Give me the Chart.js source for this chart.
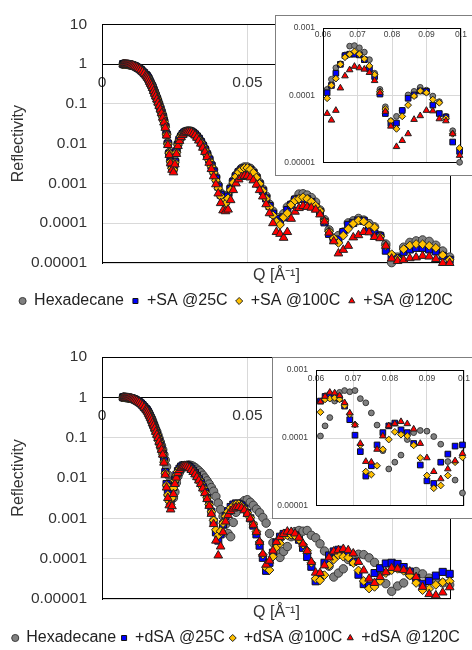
<!DOCTYPE html>
<html>
<head>
<meta charset="utf-8">
<script src="https://cdn.jsdelivr.net/npm/chart.js@4.4.1/dist/chart.umd.min.js"></script>
<style>
html,body{margin:0;padding:0;background:#fff;overflow:hidden;width:472px;height:650px;}
canvas{position:absolute;}
</style>
</head>
<body>
<canvas id="mainTop" width="472" height="325" style="left:0;top:0"></canvas>
<canvas id="insetTop" width="205" height="161" style="left:275px;top:15px"></canvas>
<canvas id="mainBottom" width="472" height="335" style="left:0;top:325px"></canvas>
<canvas id="insetBottom" width="208" height="162" style="left:272px;top:357px"></canvas>
<script>
const FONT='"Liberation Sans", Arial, sans-serif';
Chart.defaults.font.family=FONT;
Chart.defaults.color='#333';

// Q grid [1/A], shared by all series
const qValues=[
0.00728,0.00758,0.0079,0.00822,0.00856,0.00892,0.00928,0.00967,0.01007,0.01048,
0.01092,0.01137,0.01184,0.01233,0.01284,0.01337,0.01392,0.0145,0.0151,
0.01541,0.01573,0.01605,0.01638,0.01671,0.01705,0.0174,0.01776,0.01812,0.01849,
0.01887,0.01926,0.01965,0.02006,0.02047,0.02089,0.02131,0.02175,0.0222,0.02265,
0.02312,0.02359,0.02407,0.02457,0.02507,0.02558,0.02611,0.02664,0.02719,0.02775,
0.02832,0.0289,0.02949,0.03009,0.03071,0.03134,0.03198,0.03263,0.0333,0.03398,
0.03468,0.03539,0.03612,0.03686,0.03761,0.03838,0.03917,0.03997,0.04079,0.04162,
0.04248,0.04335,0.04424,0.04514,0.04607,0.04701,0.04798,0.04896,0.04996,0.05099,
0.05203,0.0531,0.05419,0.0553,0.05643,0.05759,0.05877,0.05997,0.0612,0.06245,
0.06373,0.06504,0.06637,0.06773,0.06912,0.07054,0.07198,0.07346,0.07496,0.0765,
0.07807,0.07967,0.0813,0.08297,0.08467,0.0864,0.08818,0.08998,0.09183,0.09371,
0.09563,0.09759,0.09959,0.10163,0.10372,0.10584,0.10801,0.11023,0.11249,0.11479,
0.11715,0.11955];

// top panel
const hexTop=[
1.0,1.0,0.99,0.99,0.98,0.98,0.97,0.96,0.95,0.93,0.91,0.88,0.85,0.81,0.77,0.72,0.66,0.6,0.53,
0.50,0.46,0.42,0.37,0.33,0.30,0.26,0.22,0.19,0.16,
0.14,0.115,0.095,0.078,0.063,0.050,0.038,0.028,0.018,0.0105,
0.0060,0.0038,0.0026,0.0024,0.0038,0.0066,0.0100,0.0129,0.0155,0.0178,
0.0195,0.0204,0.0209,0.0209,0.0204,0.0191,0.0174,0.0155,0.0135,0.0115,
0.0093,0.0074,0.0056,0.0042,0.0030,0.0022,0.00145,9.1e-4,5.8e-4,4.3e-4,
4.0e-4,5.2e-4,7.9e-4,1.17e-3,1.62e-3,2.0e-3,2.4e-3,2.6e-3,2.6e-3,2.4e-3,
2.0e-3,1.51e-3,1.05e-3,7.2e-4,4.8e-4,3.0e-4,2.0e-4,1.41e-4,1.23e-4,1.74e-4,
2.57e-4,2.95e-4,4.0e-4,5.4e-4,5.5e-4,5.1e-4,4.4e-4,3.4e-4,2.14e-4,1.23e-4,
6.8e-5,4.2e-5,4.9e-5,6.0e-5,1.02e-4,1.15e-4,1.32e-4,1.20e-4,9.8e-5,8.1e-5,
4.9e-5,3.0e-5,1.02e-5,1.41e-5,2.5e-5,3.3e-5,3.6e-5,3.8e-5,3.5e-5,2.8e-5,
2.0e-5,1.41e-5];
const saAt25=[
1.0,0.99,0.99,0.98,0.98,0.97,0.97,0.96,0.94,0.93,0.9,0.88,0.84,0.8,0.76,0.71,0.65,0.59,0.53,
0.50,0.46,0.42,0.37,0.33,0.29,0.26,0.22,0.19,0.16,
0.135,0.113,0.093,0.076,0.061,0.048,0.037,0.027,0.017,0.0100,
0.0056,0.0035,0.0025,0.0023,0.0035,0.0063,0.0095,0.0126,0.0151,0.0174,
0.0191,0.020,0.0204,0.0204,0.020,0.0186,0.0170,0.0151,0.0132,0.011,
0.0089,0.0071,0.0054,0.0040,0.0028,0.0020,0.00132,8.3e-4,5.2e-4,3.8e-4,
3.5e-4,4.7e-4,7.2e-4,1.10e-3,1.51e-3,1.91e-3,2.24e-3,2.4e-3,2.4e-3,2.19e-3,
1.82e-3,1.38e-3,9.5e-4,6.5e-4,4.2e-4,2.7e-4,1.74e-4,1.26e-4,1.10e-4,1.41e-4,
2.14e-4,2.9e-4,3.9e-4,4.1e-4,4.1e-4,4.0e-4,3.4e-4,2.5e-4,1.91e-4,1.05e-4,
5.4e-5,3.8e-5,3.9e-5,6.0e-5,9.1e-5,1.02e-4,1.17e-4,1.15e-4,7.2e-5,5.4e-5,
4.8e-5,2.04e-5,1.48e-5,1.32e-5,1.91e-5,2.19e-5,2.4e-5,2.4e-5,2.19e-5,1.95e-5,
1.51e-5,1.20e-5];
const saAt100=[
0.99,0.99,0.99,0.98,0.98,0.97,0.96,0.95,0.94,0.92,0.9,0.87,0.84,0.8,0.76,0.71,0.65,0.59,0.52,
0.50,0.46,0.41,0.37,0.33,0.29,0.25,0.22,0.19,0.16,
0.135,0.112,0.092,0.075,0.060,0.047,0.036,0.026,0.017,0.0098,
0.0058,0.0035,0.0024,0.0022,0.0033,0.0060,0.0093,0.0123,0.0151,0.0174,
0.0191,0.020,0.0204,0.0204,0.020,0.0186,0.017,0.0151,0.0129,0.0107,
0.0087,0.0069,0.0052,0.0038,0.0027,0.00186,0.0012,7.6e-4,4.8e-4,3.4e-4,
3.1e-4,4.2e-4,6.8e-4,1.05e-3,1.48e-3,1.91e-3,2.24e-3,2.45e-3,2.45e-3,2.24e-3,
1.86e-3,1.41e-3,9.8e-4,6.5e-4,4.1e-4,2.5e-4,1.58e-4,1.10e-4,9.1e-5,1.41e-4,
1.78e-4,2.9e-4,3.7e-4,4.1e-4,4.5e-4,4.1e-4,3.5e-4,2.75e-4,2.04e-4,1.15e-4,
6.3e-5,4.2e-5,3.2e-5,4.9e-5,7.2e-5,9.8e-5,1.17e-4,1.10e-4,8.7e-5,7.8e-5,
4.6e-5,2.7e-5,1.66e-5,1.26e-5,2.24e-5,2.75e-5,3.0e-5,2.95e-5,2.7e-5,2.4e-5,
1.58e-5,1.20e-5];
const saAt120=[
0.99,0.99,0.98,0.98,0.97,0.97,0.96,0.95,0.94,0.92,0.9,0.87,0.83,0.79,0.75,0.7,0.64,0.58,0.52,
0.49,0.45,0.41,0.36,0.32,0.29,0.25,0.21,0.18,0.155,
0.13,0.108,0.089,0.072,0.058,0.045,0.034,0.025,0.016,0.0092,
0.0052,0.0032,0.0022,0.0019,0.0030,0.0055,0.0087,0.0117,0.0145,0.0166,
0.0182,0.0191,0.0195,0.0195,0.0191,0.0178,0.0162,0.0141,0.0120,0.0100,
0.0079,0.0062,0.0046,0.0033,0.0023,0.00151,9.5e-4,5.6e-4,3.2e-4,2.1e-4,
2.0e-4,2.2e-4,3.8e-4,6.8e-4,1.0e-3,1.26e-3,1.45e-3,1.55e-3,1.55e-3,1.41e-3,
1.20e-3,9.3e-4,6.8e-4,4.7e-4,3.0e-4,1.78e-4,1.0e-4,6.0e-5,5.4e-5,4.3e-5,
6.0e-5,1.29e-4,1.95e-4,2.4e-4,2.7e-4,2.57e-4,2.45e-4,2.19e-4,1.66e-4,1.10e-4,
5.8e-5,3.5e-5,1.74e-5,2.14e-5,2.7e-5,4.4e-5,5.0e-5,6.0e-5,5.9e-5,4.5e-5,
4.2e-5,2.7e-5,1.29e-5,1.12e-5,1.20e-5,1.32e-5,1.38e-5,1.51e-5,1.45e-5,1.26e-5,
1.0e-5,1.0e-5];

// bottom panel
const hexBottom=[
1.0,1.0,0.99,0.99,0.98,0.98,0.97,0.96,0.95,0.93,0.91,0.88,0.85,0.81,0.77,0.72,0.66,0.6,0.53,
0.50,0.46,0.42,0.37,0.33,0.30,0.26,0.22,0.19,0.16,
0.14,0.115,0.095,0.078,0.063,0.050,0.038,0.028,0.019,0.012,
0.0076,0.0050,0.0035,0.0032,0.0045,0.0076,0.011,0.0138,0.0162,0.0182,
0.0195,0.0204,0.0209,0.0209,0.0204,0.0195,0.0182,0.0166,0.0151,0.0135,
0.0117,0.010,0.0085,0.0071,0.0058,0.0047,0.0035,0.0024,0.00166,1.12e-3,
7.1e-4,4.2e-4,3.5e-4,7.9e-4,1.41e-3,2.0e-3,2.4e-3,2.75e-3,2.9e-3,2.5e-3,
2.1e-3,1.70e-3,1.38e-3,1.05e-3,7.6e-4,4.2e-4,2.5e-4,1.41e-4,1.07e-4,1.51e-4,
2.0e-4,3.5e-4,4.7e-4,5.0e-4,4.8e-4,5.0e-4,3.8e-4,3.3e-4,2.34e-4,1.55e-4,
6.5e-5,3.5e-5,4.4e-5,5.6e-5,9.5e-5,1.20e-4,1.29e-4,1.26e-4,1.05e-4,8.1e-5,
4.5e-5,2.4e-5,1.55e-5,2.1e-5,2.5e-5,4.0e-5,4.8e-5,4.2e-5,3.3e-5,2.8e-5,
2.5e-5,2.24e-5];
const dsaAt25=[
1.0,1.0,0.99,0.99,0.98,0.97,0.96,0.95,0.94,0.92,0.9,0.87,0.83,0.79,0.75,0.7,0.64,0.57,0.51,
0.48,0.44,0.39,0.35,0.31,0.27,0.23,0.20,0.17,0.145,
0.12,0.10,0.081,0.066,0.052,0.040,0.026,0.014,0.0071,0.0042,
0.0030,0.0025,0.0035,0.0060,0.0091,0.0120,0.0148,0.0170,0.0191,0.0204,
0.0209,0.0209,0.020,0.0186,0.017,0.0151,0.0132,0.0112,0.0093,0.0076,
0.0059,0.0045,0.0032,0.0022,0.00145,8.3e-4,4.5e-4,2.8e-4,4.0e-4,7.1e-4,
1.12e-3,1.51e-3,1.91e-3,2.19e-3,2.34e-3,2.29e-3,2.09e-3,1.74e-3,1.35e-3,1.0e-3,
6.6e-4,4.0e-4,2.1e-4,1.05e-4,5.0e-5,7.9e-5,1.41e-4,2.5e-4,3.5e-4,4.1e-4,
4.3e-4,4.1e-4,3.8e-4,2.95e-4,1.86e-4,1.10e-4,6.3e-5,2.75e-5,3.9e-5,7.9e-5,
1.20e-4,1.51e-4,1.66e-4,1.32e-4,1.20e-4,8.3e-5,4.0e-5,2.34e-5,2.14e-5,4.4e-5,
5.8e-5,7.6e-5,7.9e-5,7.4e-5,6.2e-5,4.8e-5,3.3e-5,2.4e-5,2.8e-5,3.8e-5,
4.7e-5,4.2e-5];
const dsaAt100=[
0.99,0.99,0.99,0.98,0.98,0.97,0.96,0.95,0.93,0.92,0.89,0.86,0.83,0.79,0.74,0.69,0.63,0.57,0.51,
0.48,0.44,0.39,0.35,0.31,0.27,0.23,0.20,0.17,0.145,
0.12,0.10,0.081,0.065,0.051,0.039,0.025,0.0132,0.0066,0.0038,
0.0026,0.0022,0.0032,0.0056,0.0087,0.0117,0.0145,0.0166,0.0186,0.020,
0.0204,0.0204,0.0195,0.0182,0.0166,0.0148,0.0129,0.011,0.0091,0.0074,
0.0058,0.0044,0.0032,0.0022,0.00145,8.9e-4,5.2e-4,3.8e-4,4.8e-4,7.6e-4,
1.12e-3,1.48e-3,1.82e-3,2.09e-3,2.24e-3,2.24e-3,2.04e-3,1.74e-3,1.38e-3,1.05e-3,
7.2e-4,4.7e-4,2.6e-4,1.26e-4,6.0e-5,5.2e-5,1.12e-4,1.91e-4,2.4e-4,3.7e-4,
3.8e-4,3.9e-4,3.7e-4,3.0e-4,2.24e-4,1.58e-4,7.9e-5,3.2e-5,2.9e-5,3.9e-5,
6.8e-5,9.5e-5,1.23e-4,1.12e-4,1.07e-4,7.8e-5,5.1e-5,2.8e-5,1.82e-5,2.0e-5,
2.8e-5,4.4e-5,5.2e-5,5.6e-5,5.0e-5,3.8e-5,2.5e-5,1.66e-5,1.78e-5,2.24e-5,
2.6e-5,2.75e-5];
const dsaAt120=[
0.99,0.99,0.98,0.98,0.97,0.97,0.96,0.94,0.93,0.91,0.89,0.86,0.82,0.78,0.74,0.69,0.63,0.56,0.5,
0.48,0.44,0.39,0.35,0.31,0.27,0.23,0.20,0.17,0.14,
0.118,0.098,0.079,0.064,0.050,0.038,0.024,0.012,0.0058,0.0032,
0.0021,0.00166,0.0020,0.0040,0.0071,0.0102,0.0132,0.0158,0.0178,0.0191,
0.0195,0.0195,0.0186,0.0174,0.0158,0.0141,0.0123,0.0105,0.0087,0.0071,
0.0055,0.0042,0.0030,0.00204,0.00129,7.2e-4,2.8e-4,1.20e-4,2.0e-4,4.5e-4,
8.3e-4,1.20e-3,1.51e-3,1.74e-3,1.86e-3,1.91e-3,1.82e-3,1.58e-3,1.29e-3,9.8e-4,
6.9e-4,4.6e-4,2.6e-4,1.32e-4,7.1e-5,8.9e-5,1.58e-4,2.6e-4,3.4e-4,4.1e-4,
4.7e-4,4.6e-4,4.2e-4,3.3e-4,2.34e-4,1.55e-4,8.3e-5,4.5e-5,4.4e-5,6.8e-5,
1.07e-4,1.51e-4,1.62e-4,1.74e-4,1.62e-4,1.35e-4,8.3e-5,5.1e-5,3.2e-5,2.5e-5,
3.5e-5,4.6e-5,5.9e-5,5.6e-5,5.2e-5,4.8e-5,3.5e-5,2.0e-5,1.32e-5,1.23e-5,
1.45e-5,1.95e-5];

const topLabels=['Hexadecane','+SA @25C','+SA @100C','+SA @120C'];
const bottomLabels=['Hexadecane','+dSA @25C','+dSA @100C','+dSA @120C'];

const yTicks=[1e-5,1e-4,1e-3,1e-2,0.1,1,10];
const yTickLabels=['0.00001','0.0001','0.001','0.01','0.1','1','10'];
const xTicks=[0,0.05,0.1];
const xTickLabels=['0','0.05','0.1'];
const insetXTicks=[0.06,0.07,0.08,0.09,0.1];
const insetXLabels=['0.06','0.07','0.08','0.09','0.1'];
const insetYTicks=[1e-5,1e-4,1e-3];
const insetYLabels=['0.00001','0.0001','0.001'];

const markers=[
  {pointStyle:'circle',fill:'#808080',border:'#3a3a3a',r:4.2,ri:2.9},
  {pointStyle:'rect',fill:'#0000ff',border:'#111111',r:5,ri:4},
  {pointStyle:'rectRot',fill:'#ffc000',border:'#222222',r:4.4,ri:3.4},
  {pointStyle:'triangle',fill:'#ff0000',border:'#222222',r:5,ri:3.8}
];
const GRID='#d9d9d9';

// white fill + grey outline for insets, black box round every plot area
const framePlugin={
  id:'frame',
  beforeDraw(chart,args,opts){
    if(!opts.outer) return;
    const ctx=chart.ctx;
    ctx.save();
    ctx.fillStyle='#fff';
    ctx.fillRect(0,0,chart.width,chart.height);
    ctx.strokeStyle=opts.outer;
    ctx.lineWidth=1;
    ctx.strokeRect(0.5,0.5,chart.width-1,chart.height-1);
    ctx.restore();
  },
  beforeDatasetsDraw(chart){
    const a=chart.chartArea,ctx=chart.ctx;
    ctx.save();
    ctx.strokeStyle='#000';
    ctx.lineWidth=1;
    ctx.strokeRect(Math.round(a.left)+0.5,Math.round(a.top)+0.5,
      Math.round(a.right)-Math.round(a.left)-1,Math.round(a.bottom)-Math.round(a.top)-1);
    ctx.restore();
  }
};

function makeDatasets(series,labels,inset){
  return series.map((vals,i)=>({
    label:labels[i],
    data:qValues.map((q,k)=>({x:q,y:vals[k]})).filter(p=>!inset||(p.x>=0.06&&p.x<=0.1)),
    pointStyle:markers[i].pointStyle,
    backgroundColor:markers[i].fill,
    borderColor:markers[i].border,
    borderWidth:1,
    pointRadius:inset?markers[i].ri:markers[i].r,
    showLine:false,
    clip:false,
    order:4-i
  }));
}

// lg: legend box width / padding, titleH: height kept for the Q title, extra: gap below it
function mainChart(id,series,labels,padTop,padBottom,titleH,extra,lg){
  return new Chart(document.getElementById(id),{
    type:'scatter',
    data:{datasets:makeDatasets(series,labels,false)},
    options:{
      responsive:false,animation:false,devicePixelRatio:1,events:[],
      layout:{padding:{left:0,right:0,top:padTop,bottom:padBottom}},
      plugins:{
        tooltip:{enabled:false},
        frame:{},
        legend:{
          position:'bottom',align:'center',
          labels:{usePointStyle:true,boxWidth:lg.box,boxHeight:5,padding:lg.pad,color:'#222',
            font:{family:FONT,size:16},
            sort:(a,b)=>a.datasetIndex-b.datasetIndex}
        }
      },
      scales:{
        x:{
          type:'linear',axis:'x',min:0,max:0.12,position:{y:1},
          afterBuildTicks:s=>{s.ticks=xTicks.map(v=>({value:v}));},
          ticks:{callback:(v,i)=>xTickLabels[i],padding:9.5,maxRotation:0,autoSkip:false,
            font:{size:15.5},color:'#333'},
          grid:{color:GRID,drawTicks:false},
          border:{color:'#000',width:1}
        },
        y:{
          type:'logarithmic',axis:'y',min:1e-5,max:10,position:'left',
          afterBuildTicks:s=>{s.ticks=yTicks.map(v=>({value:v}));},
          afterFit:s=>{s.width=102;},
          ticks:{callback:(v,i)=>yTickLabels[i],padding:15,autoSkip:false,
            font:{size:15.5},color:'#333'},
          grid:{color:GRID,drawTicks:false},
          border:{color:'#000',width:1},
          title:{display:true,text:'Reflectivity',color:'#333',font:{size:16},padding:{top:9,bottom:0}}
        },
        xTitle:{
          type:'linear',axis:'x',position:'bottom',min:0,max:1,
          ticks:{display:false},grid:{display:false,drawTicks:false},border:{display:false},
          title:{display:true,text:'Q [Å⁻¹]',color:'#333',font:{size:16},padding:{top:0,bottom:extra}},
          afterFit:s=>{s.height=titleH+extra;}
        },
        yPad:{
          type:'linear',axis:'y',position:'right',min:0,max:1,
          ticks:{display:false},grid:{display:false,drawTicks:false},border:{display:false},
          afterFit:s=>{s.width=21;}
        }
      }
    },
    plugins:[framePlugin]
  });
}

function insetChart(id,series,yW,pad,xPad){
  return new Chart(document.getElementById(id),{
    type:'scatter',
    data:{datasets:makeDatasets(series,topLabels,true)},
    options:{
      responsive:false,animation:false,devicePixelRatio:1,events:[],
      layout:{padding:{left:0,right:pad.right,top:pad.top,bottom:pad.bottom}},
      plugins:{tooltip:{enabled:false},legend:{display:false},frame:{outer:'#7f7f7f'}},
      scales:{
        x:{
          type:'linear',axis:'x',min:0.06,max:0.1,position:{y:1e-3},
          afterBuildTicks:s=>{s.ticks=insetXTicks.map(v=>({value:v}));},
          ticks:{callback:(v,i)=>insetXLabels[i],padding:xPad,maxRotation:0,autoSkip:false,
            font:{size:8.5},color:'#404040'},
          grid:{color:GRID,drawTicks:false},
          border:{display:false}
        },
        y:{
          type:'logarithmic',axis:'y',min:1e-5,max:1e-3,position:'left',
          afterBuildTicks:s=>{s.ticks=insetYTicks.map(v=>({value:v}));},
          afterFit:s=>{s.width=yW;},
          ticks:{callback:(v,i)=>insetYLabels[i],padding:8,autoSkip:false,
            font:{size:8.5},color:'#404040'},
          grid:{color:GRID,drawTicks:false},
          border:{display:false}
        }
      }
    },
    plugins:[framePlugin]
  });
}

mainChart('mainTop',[hexTop,saAt25,saAt100,saAt120],topLabels,21,6,22,0,{box:7,pad:8});
mainChart('mainBottom',[hexBottom,dsaAt25,dsaAt100,dsaAt120],bottomLabels,32,4,23,3,{box:6,pad:5});
insetChart('insetTop',[hexTop,saAt25,saAt100,saAt120],48,{top:10,right:19,bottom:9},1.5);
insetChart('insetBottom',[hexBottom,dsaAt25,dsaAt100,dsaAt120],44,{top:8,right:16,bottom:6},3);
</script>
</body>
</html>
